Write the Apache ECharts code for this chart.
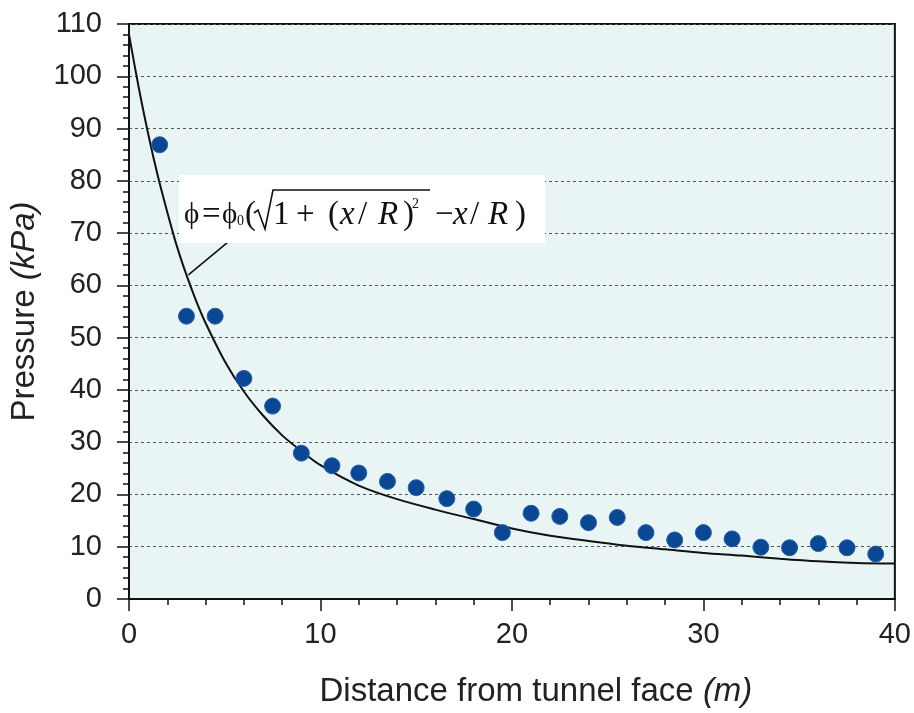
<!DOCTYPE html>
<html><head><meta charset="utf-8">
<script src="https://cdn.jsdelivr.net/npm/echarts@6/dist/echarts.min.js"></script>
<style>html,body{margin:0;padding:0;background:#fff}#c{width:914px;height:713px}</style>
</head><body><div id="c"></div>
<script>
// Measured pressure points
const measX = [1.6, 3.0, 4.5, 6.0, 7.5, 9.0, 10.6, 12.0, 13.5, 15.0, 16.6, 18.0, 19.5, 21.0, 22.5, 24.0, 25.5, 27.0, 28.5, 30.0, 31.5, 33.0, 34.5, 36.0, 37.5, 39.0];
const measY = [86.9, 54.1, 54.1, 42.2, 36.9, 27.9, 25.5, 24.1, 22.5, 21.3, 19.2, 17.2, 12.7, 16.4, 15.8, 14.6, 15.6, 12.7, 11.3, 12.7, 11.5, 9.9, 9.8, 10.6, 9.8, 8.6];
// Fitted curve
const curveX = [0, 0.5, 1, 1.5, 2, 2.5, 3, 3.5, 4, 5, 6, 7, 8, 9, 10, 12, 14, 16, 18, 20, 22, 24, 26, 28, 30, 32, 34, 36, 38, 40];
const curveY = [108, 98, 89, 81, 74, 67.5, 62, 57.1, 52.8, 45.5, 39.7, 35.1, 31.3, 28.3, 25.6, 21.7, 19.1, 17.1, 15.3, 13.5, 12.1, 11.1, 10.2, 9.5, 8.8, 8.3, 7.7, 7.2, 6.9, 6.8];
// Arrow pointing at the curve (tail, head)
const arrowFrom = [5.31, 68.7];
const arrowTo = [3.1, 62.0];
const xTicks = {min: 0, max: 40, interval: 10};
const yTicks = {min: 0, max: 110, interval: 10};

const chart = echarts.init(document.getElementById('c'), null, {renderer: 'canvas'});
const SANS = 'Liberation Sans';
const SERIF = 'Liberation Serif';
const txtCol = '#222';

const formulaMid = 215;
function t(text, x, opts) {
  opts = opts || {};
  return {type: 'text', x: x, y: opts.y != null ? opts.y : formulaMid, z: 101,
    style: {text: text, fill: '#111', fontFamily: SERIF, fontSize: opts.size || 33,
      fontStyle: opts.italic ? 'italic' : 'normal',
      align: 'left', verticalAlign: 'middle'}};
}

chart.setOption({
  animation: false,
  grid: {left: 127, right: 18, top: 24, bottom: 112, show: true, backgroundColor: '#e9f5f4', borderColor: '#111', borderWidth: 2, containLabel: false},
  xAxis: {
    type: 'value', min: xTicks.min, max: xTicks.max, interval: xTicks.interval,
    name: 'Distance from tunnel face {i|(m)}', nameLocation: 'middle', nameGap: 76,
    nameTextStyle: {fontFamily: SANS, fontSize: 33, color: txtCol, padding: [0, 0, 0, 48],
      rich: {i: {fontFamily: SANS, fontSize: 33, fontStyle: 'italic', color: txtCol}}},
    axisLine: {show: true, onZero: false, lineStyle: {color: '#111', width: 2}},
    axisTick: {show: true, length: 12, lineStyle: {color: '#111', width: 1.5}},
    minorTick: {show: true, splitNumber: 5, length: 6, lineStyle: {color: '#111', width: 1.5}},
    axisLabel: {fontFamily: SANS, fontSize: 29, color: txtCol, margin: 21},
    splitLine: {show: false}
  },
  yAxis: {
    type: 'value', min: yTicks.min, max: yTicks.max, interval: yTicks.interval,
    name: 'Pressure {i|(kPa)}', nameLocation: 'middle', nameGap: 88, nameRotate: 90,
    nameTextStyle: {fontFamily: SANS, fontSize: 33, color: txtCol,
      rich: {i: {fontFamily: SANS, fontSize: 33, fontStyle: 'italic', color: txtCol}}},
    axisLine: {show: true, onZero: false, lineStyle: {color: '#111', width: 2}},
    axisTick: {show: true, length: 12, lineStyle: {color: '#111', width: 1.5}},
    minorTick: {show: true, splitNumber: 5, length: 6, lineStyle: {color: '#111', width: 1.5}},
    axisLabel: {fontFamily: SANS, fontSize: 29, color: txtCol, margin: 27},
    splitLine: {show: true, lineStyle: {color: '#555', width: 1, type: [3, 3]}}
  },
  series: [
    {
      type: 'line', data: curveX.map((x, i) => [x, curveY[i]]), smooth: 0.3, showSymbol: false, symbol: 'none',
      lineStyle: {color: '#111', width: 2}, z: 3,
      markLine: {
        silent: true, symbol: ['none', 'arrow'], symbolSize: [0, 10], animation: false,
        label: {show: false},
        lineStyle: {color: '#111', width: 1.6, type: 'solid'},
        data: [[{coord: arrowFrom}, {coord: arrowTo}]]
      }
    },
    {
      type: 'scatter', data: measX.map((x, i) => [x, measY[i]]), symbol: 'circle', symbolSize: 16,
      itemStyle: {color: '#0b4793', opacity: 1, borderColor: '#2861a8', borderWidth: 1}, z: 4
    }
  ],
  graphic: [
    {type: 'rect', shape: {x: 179, y: 175, width: 366, height: 68}, style: {fill: '#ffffff'}, z: 100},
    t('\u03d5', 184, {size: 29}),
    t('=', 202),
    t('\u03d5', 222, {size: 29}),
    t('0', 237, {size: 14, y: 221}),
    t('(', 245),
    {type: 'polyline', z: 101, shape: {points: [[254, 213], [258, 210], [265, 229], [273, 190], [430, 190]]},
      style: {stroke: '#111', lineWidth: 1.6, fill: null}},
    t('1', 273),
    t('+', 296),
    t('(', 328),
    t('x', 340, {italic: true}),
    t('/', 358),
    t('R', 378, {italic: true}),
    t(')', 403),
    t('2', 412, {size: 14, y: 204}),
    t('\u2212', 435),
    t('x', 453, {italic: true}),
    t('/', 470),
    t('R', 488, {italic: true}),
    t(')', 515)
  ]
});
</script></body></html>
